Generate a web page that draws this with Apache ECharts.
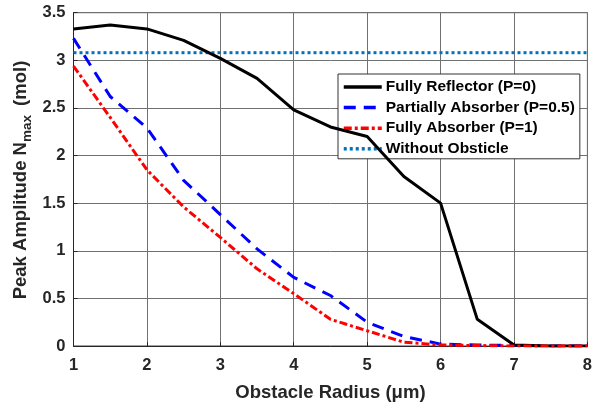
<!DOCTYPE html>
<html>
<head>
<meta charset="utf-8">
<script src="https://cdn.jsdelivr.net/npm/echarts@6/dist/echarts.min.js"></script>
<style>html,body{margin:0;padding:0;background:#fff}#c{width:595px;height:407px}</style>
</head>
<body>
<div id="c"></div>
<script>
const radius = [1, 1.5, 2, 2.5, 3, 3.5, 4, 4.5, 5, 5.5, 6, 6.5, 7, 7.5, 8];
const fullyReflector = [3.33, 3.37, 3.33, 3.21, 3.02, 2.81, 2.48, 2.3, 2.2, 1.78, 1.5, 0.28, 0.01, 0, 0];
const partiallyAbsorber = [3.23, 2.62, 2.29, 1.74, 1.38, 1.02, 0.72, 0.53, 0.25, 0.1, 0.02, 0.01, 0.005, 0, 0];
const fullyAbsorber = [2.94, 2.4, 1.85, 1.46, 1.14, 0.81, 0.55, 0.28, 0.16, 0.04, 0.01, 0.005, 0, 0, 0];
const withoutX = [1, 8];
const withoutObstacle = [3.08, 3.08];
const seriesNames = ['Fully Reflector (P=0)', 'Partially Absorber (P=0.5)', 'Fully Absorber (P=1)', 'Without Obsticle'];
const xTicks = [1, 2, 3, 4, 5, 6, 7, 8];
const yTicks = [0, 0.5, 1, 1.5, 2, 2.5, 3, 3.5];

const pair = (xs, ys) => xs.map((x, i) => [x, ys[i]]);
const font = 'Liberation Sans, Arial, sans-serif';
const chart = echarts.init(document.getElementById('c'), null, {renderer: 'canvas'});
chart.setOption({
  animation: false,
  backgroundColor: '#fff',
  grid: {left: 73.5, right: 5, top: 12.7, bottom: 59.7, show: true, borderColor: '#444', borderWidth: 1},
  xAxis: {
    type: 'value', min: xTicks[0], max: xTicks[xTicks.length - 1], interval: 1,
    axisLine: {show: true, lineStyle: {color: '#262626', width: 1}},
    axisTick: {show: true, inside: true, length: 4, lineStyle: {color: '#262626'}},
    axisLabel: {color: '#262626', fontSize: 16.5, fontWeight: 'bold', fontFamily: font, margin: 11},
    splitLine: {show: true, lineStyle: {color: '#707070', width: 1}},
    name: 'Obstacle Radius (μm)', nameLocation: 'middle', nameGap: 37,
    nameTextStyle: {color: '#262626', fontSize: 18.5, fontWeight: 'bold', fontFamily: font}
  },
  yAxis: {
    type: 'value', min: yTicks[0], max: yTicks[yTicks.length - 1], interval: 0.5,
    axisLine: {show: true, lineStyle: {color: '#262626', width: 1}},
    axisTick: {show: true, inside: true, length: 4, lineStyle: {color: '#262626'}},
    axisLabel: {color: '#262626', fontSize: 16.5, fontWeight: 'bold', fontFamily: font, margin: 8},
    splitLine: {show: true, lineStyle: {color: '#707070', width: 1}}
  },
  graphic: [{
    type: 'text', x: 21, y: 180, rotation: Math.PI / 2,
    style: {
      text: 'Peak Amplitude N{sub|max} (mol)',
      fill: '#262626', font: 'bold 18.5px ' + font,
      align: 'center', verticalAlign: 'middle',
      rich: {sub: {fontSize: 13.5, fontWeight: 'bold', fontFamily: font, fill: '#262626', padding: [12, 4, 0, 0]}}
    }
  }],
  legend: {
    orient: 'vertical', left: 338, top: 74,
    data: seriesNames,
    backgroundColor: '#fff', borderColor: '#333', borderWidth: 1,
    padding: [5, 5, 2, 4], itemWidth: 38, itemHeight: 14, itemGap: 4.6,
    itemStyle: {color: 'rgba(0,0,0,0)', borderColor: 'rgba(0,0,0,0)', borderWidth: 0},
    lineStyle: {width: 3.5},
    textStyle: {color: '#000', fontSize: 15.5, fontWeight: 'bold', fontFamily: font, lineHeight: 16, padding: [0, 0, 0, -1]}
  },
  series: [
    {name: seriesNames[0], type: 'line', data: pair(radius, fullyReflector), symbol: 'none', z: 5,
     lineStyle: {color: '#000', width: 3}, itemStyle: {color: '#000'}},
    {name: seriesNames[1], type: 'line', data: pair(radius, partiallyAbsorber), symbol: 'none', z: 4,
     lineStyle: {color: '#0000ff', width: 3, type: [12, 8]}, itemStyle: {color: '#0000ff'}},
    {name: seriesNames[2], type: 'line', data: pair(radius, fullyAbsorber), symbol: 'none', z: 6,
     lineStyle: {color: '#ff0000', width: 3, type: [8, 3, 3, 3]}, itemStyle: {color: '#ff0000'}},
    {name: seriesNames[3], type: 'line', data: pair(withoutX, withoutObstacle), symbol: 'none', z: 3,
     lineStyle: {color: '#0072BD', width: 3, type: [3, 3]}, itemStyle: {color: '#0072BD'}}
  ]
});
</script>
</body>
</html>
